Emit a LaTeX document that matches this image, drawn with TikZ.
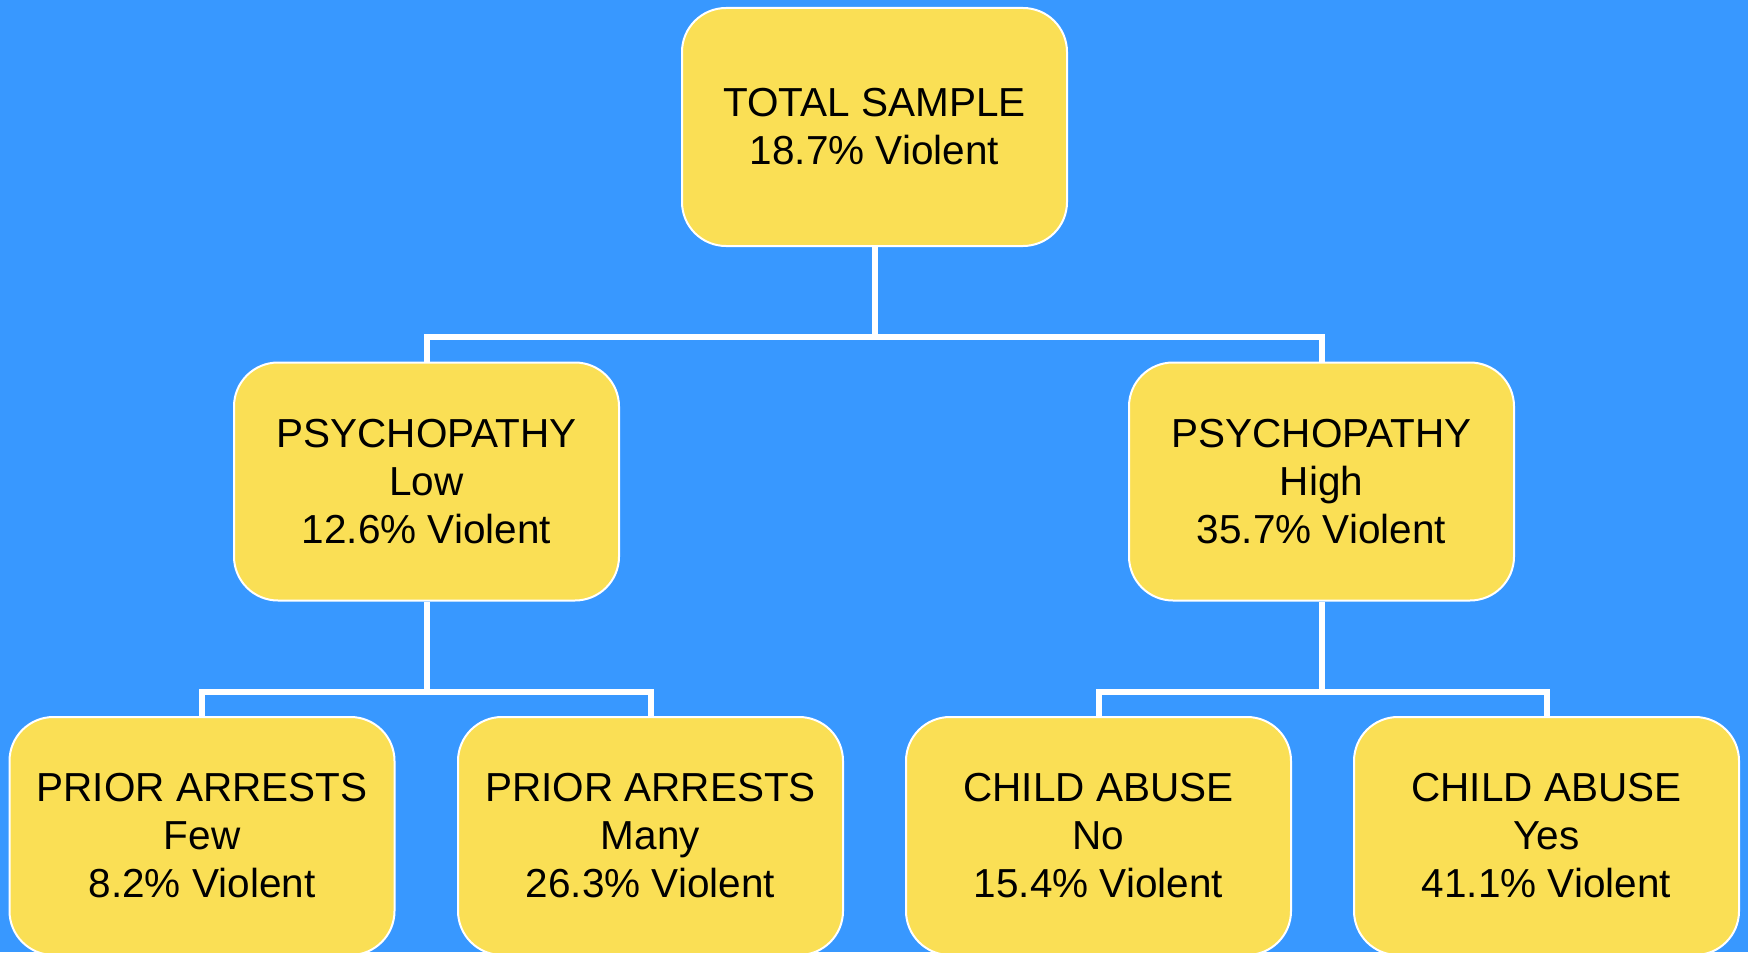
\documentclass[tikz,border=0pt]{standalone}
\usepackage{fontspec}
\setmainfont{Liberation Sans}
\usetikzlibrary{calc}

\definecolor{bgblue}{RGB}{56,152,255}
\definecolor{boxyellow}{RGB}{250,223,85}

\tikzset{
  box/.style={rectangle, rounded corners=22pt, fill=boxyellow, draw=white,
    line width=1pt, minimum width=192.5pt, minimum height=119pt,
    align=center, inner sep=0pt, font=\fontsize{20.25}{24}\selectfont},
  link/.style={draw=white, line width=3pt}
}

\begin{document}
\begin{tikzpicture}[x=0.5pt, y=-0.5pt]

\useasboundingbox (0,0) rectangle (1748,952);
\clip (0,0) rectangle (1748,952);
\fill[bgblue] (0,0) rectangle (1748,952);


\coordinate (bar1) at (874.5,337);
\coordinate (bar2) at (426.5,692);
\coordinate (bar3) at (1321.5,692);


\node[box] (total) at (874.5,127) {TOTAL SAMPLE\\18.7\% Violent};

\node[box] (psylow) at (426.5,481.5) {PSYCHOPATHY\\Low\\12.6\% Violent};
\node[box] (psyhigh) at (1321.5,481.5) {PSYCHOPATHY\\High\\35.7\% Violent};

\node[box] (arrfew) at (202,836) {PRIOR ARRESTS\\Few\\8.2\% Violent};
\node[box] (arrmany) at (650.5,836) {PRIOR ARRESTS\\Many\\26.3\% Violent};
\node[box] (abuseno) at (1098.5,836) {CHILD ABUSE\\No\\15.4\% Violent};
\node[box] (abuseyes) at (1546.5,836) {CHILD ABUSE\\Yes\\41.1\% Violent};


\draw[link] (total.south) -- (bar1);
\draw[link] (psylow.north) |- (bar1) -| (psyhigh.north);
\draw[link] (psylow.south) -- (bar2);
\draw[link] (arrfew.north) |- (bar2) -| (arrmany.north);
\draw[link] (psyhigh.south) -- (bar3);
\draw[link] (abuseno.north) |- (bar3) -| (abuseyes.north);

\end{tikzpicture}
\end{document}
